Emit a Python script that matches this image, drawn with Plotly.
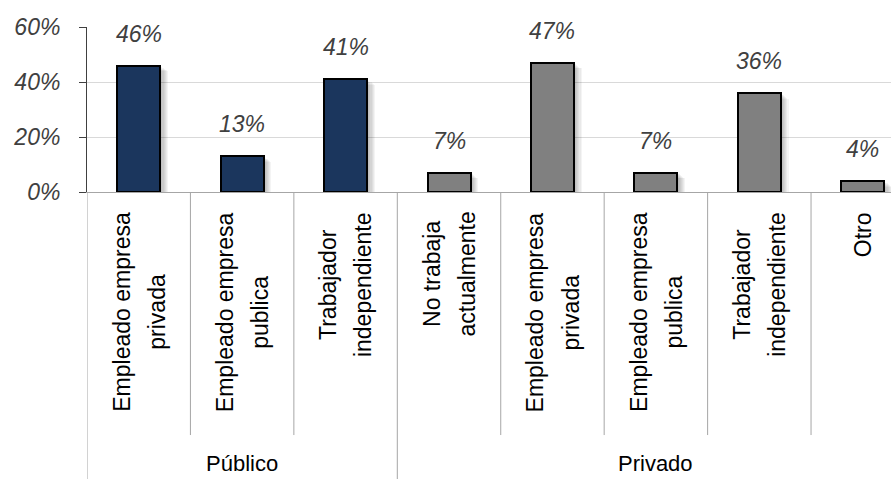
import plotly.graph_objects as go

# Survey data: occupation of respondents, split by sector
groups = ["Público", "Privado"]
categories_publico = ["Empleado empresa<br>privada", "Empleado empresa<br>publica",
                      "Trabajador<br>independiente"]
categories_privado = ["No trabaja<br>actualmente", "Empleado empresa<br>privada",
                      "Empleado empresa<br>publica", "Trabajador<br>independiente", "Otro"]
values_publico = [46, 13, 41]
values_privado = [7, 47, 7, 36, 4]
y_ticks = [0, 20, 40, 60]

colors = {"Público": "#1b365d", "Privado": "#808080"}
FONT = "Arial, Liberation Sans, sans-serif"

categories = categories_publico + categories_privado
values = values_publico + values_privado
group_of = [groups[0]] * len(values_publico) + [groups[1]] * len(values_privado)
xs = list(range(len(values)))

BAR_W = 0.416
PX_X = 1 / 103.43          # one pixel in x data units
PX_Y = 60 / 165            # one pixel in y data units

fig = go.Figure()

# soft drop shadow to the right of each bar
for k in range(1, 8):
    fig.add_trace(go.Bar(
        x=xs, y=[max(v - k * PX_Y * 0.8, 0) for v in values],
        width=BAR_W, offset=-BAR_W / 2 + k * PX_X * 1.1,
        marker=dict(color="rgba(0,0,0,0.045)", line=dict(width=0)),
        hoverinfo="skip", showlegend=False,
    ))

fig.add_trace(go.Bar(
    x=xs, y=values, width=BAR_W, offset=-BAR_W / 2,
    marker=dict(color=[colors[g] for g in group_of], line=dict(color="#000000", width=2)),
    showlegend=False,
))

annotations = []
# value labels above bars
for x, v in zip(xs, values):
    annotations.append(dict(
        x=x, y=v, xref="x", yref="y", text=f"{v}%", showarrow=False,
        yanchor="bottom", yshift=17,
        font=dict(family=FONT, size=23, color="#404040", style="italic"),
    ))

# rotated category labels
for x, c in zip(xs, categories):
    annotations.append(dict(
        x=x, y=0, xref="x", yref="paper", showarrow=False,
        text=f'<span style="font-size:23px">{c}</span>',
        textangle=-90, yanchor="top", xanchor="center", yshift=-18, align="center",
        font=dict(family=FONT, size=27, color="#000000"),
    ))

# group labels and separators
start = 0
shapes = []
for g, n in zip(groups, [len(values_publico), len(values_privado)]):
    center = start + (n - 1) / 2
    annotations.append(dict(
        x=center, y=0, xref="x", yref="paper", text=g, showarrow=False,
        yanchor="bottom", yshift=-285, borderpad=0,
        font=dict(family=FONT, size=22, color="#000000"),
    ))
    shapes.append(dict(type="line", xref="x", yref="paper",
                       x0=start - 0.5, x1=start - 0.5, y0=0, y1=-1.75,
                       line=dict(color="#a6a6a6", width=1)))
    for i in range(start + 1, start + n):
        shapes.append(dict(type="line", xref="x", yref="paper",
                           x0=i - 0.5, x1=i - 0.5, y0=0, y1=-1.473,
                           line=dict(color="#a6a6a6", width=1)))
    start += n

fig.update_layout(
    width=891, height=479,
    margin=dict(l=87, r=0, t=27, b=287),
    plot_bgcolor="white", paper_bgcolor="white",
    barmode="overlay", bargap=0,
    annotations=annotations, shapes=shapes,
    xaxis=dict(range=[-0.5, 7.273], showticklabels=False, showgrid=False,
               zeroline=False, showline=True, linecolor="#a6a6a6", linewidth=1,
               ticks=""),
    yaxis=dict(range=[0, 60], tickvals=y_ticks, ticktext=[f"{t}%" for t in y_ticks],
               showgrid=True, gridcolor="#d9d9d9", gridwidth=1, zeroline=False,
               showline=True, linecolor="#404040", linewidth=1,
               ticks="outside", ticklen=7, tickcolor="#404040",
               ticklabelstandoff=14,
               tickfont=dict(family=FONT, size=23, color="#404040", style="italic")),
)

fig.write_html("out.html")
